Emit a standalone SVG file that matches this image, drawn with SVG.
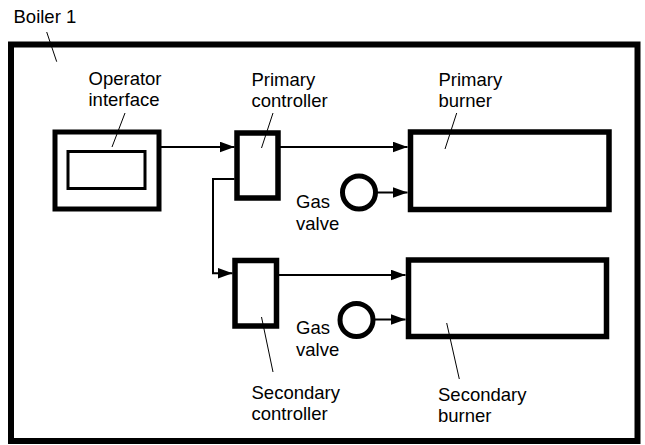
<svg xmlns="http://www.w3.org/2000/svg" width="645" height="445" viewBox="0 0 645 445">
<style>
text{font-family:"Liberation Sans",Arial,sans-serif;font-size:18.5px;fill:#000}
.thick{fill:none;stroke:#000;stroke-width:5.5}
.thin{fill:none;stroke:#000;stroke-width:2}
.lead{fill:none;stroke:#000;stroke-width:1}
</style>
<defs>
<marker id="arr" markerUnits="userSpaceOnUse" markerWidth="16" markerHeight="12" refX="15" refY="5.5" orient="auto">
<path d="M0,0 L15,5.5 L0,11 z" fill="#000"/>
</marker>
</defs>
<rect width="645" height="445" fill="#fff"/>
<g id="boiler">
<rect class="thick" x="11" y="44.5" width="626.5" height="396.5" style="stroke-width:6"/>
<text x="13.5" y="23">Boiler 1</text>
<line class="lead" x1="46.7" y1="32" x2="56.7" y2="61.7"/>
</g>
<g id="operator-interface">
<rect class="thick" x="55" y="132" width="104" height="77" style="stroke-width:5"/>
<rect x="68" y="151.5" width="77" height="37" fill="none" stroke="#000" stroke-width="3"/>
<text x="88.5" y="85">Operator</text>
<text x="88.5" y="106">interface</text>
<line class="lead" x1="125" y1="113" x2="112" y2="147"/>
</g>
<g id="primary-controller">
<rect class="thick" x="237" y="133" width="41" height="65"/>
<text x="251.5" y="86">Primary</text>
<text x="251.5" y="107">controller</text>
<line class="lead" x1="273" y1="113" x2="261.5" y2="148"/>
</g>
<g id="secondary-controller">
<rect class="thick" x="235" y="260.5" width="41.5" height="65.5"/>
<text x="251.5" y="398.5">Secondary</text>
<text x="251.5" y="420">controller</text>
<line class="lead" x1="261.5" y1="317" x2="273" y2="372"/>
</g>
<g id="primary-burner">
<rect class="thick" x="410.5" y="132" width="198.5" height="77.5"/>
<text x="438.5" y="86">Primary</text>
<text x="438.5" y="107">burner</text>
<line class="lead" x1="456.7" y1="113" x2="445" y2="149"/>
</g>
<g id="secondary-burner">
<rect class="thick" x="408.5" y="260" width="198" height="76.5"/>
<text x="438" y="400.5">Secondary</text>
<text x="438" y="422">burner</text>
<line class="lead" x1="446.7" y1="323" x2="459.3" y2="379"/>
</g>
<g id="gas-valve-1">
<circle cx="359" cy="192.5" r="16.5" fill="none" stroke="#000" stroke-width="5"/>
<text x="296" y="207.5">Gas</text>
<text x="296" y="229.5">valve</text>
</g>
<g id="gas-valve-2">
<circle cx="356.5" cy="320" r="16.5" fill="none" stroke="#000" stroke-width="5"/>
<text x="296" y="333.5">Gas</text>
<text x="296" y="355.5">valve</text>
</g>
<g id="connectors">
<line class="thin" x1="158" y1="147" x2="234.5" y2="147" marker-end="url(#arr)"/>
<line class="thin" x1="280" y1="147" x2="407.5" y2="147" marker-end="url(#arr)"/>
<line class="thin" x1="377" y1="192.5" x2="407.5" y2="192.5" marker-end="url(#arr)"/>
<polyline class="thin" points="234.5,179 213,179 213,273.3 232.5,273.3" marker-end="url(#arr)"/>
<line class="thin" x1="278" y1="275" x2="405.5" y2="275" marker-end="url(#arr)"/>
<line class="thin" x1="374.5" y1="319.5" x2="405.5" y2="319.5" marker-end="url(#arr)"/>
</g>
</svg>
